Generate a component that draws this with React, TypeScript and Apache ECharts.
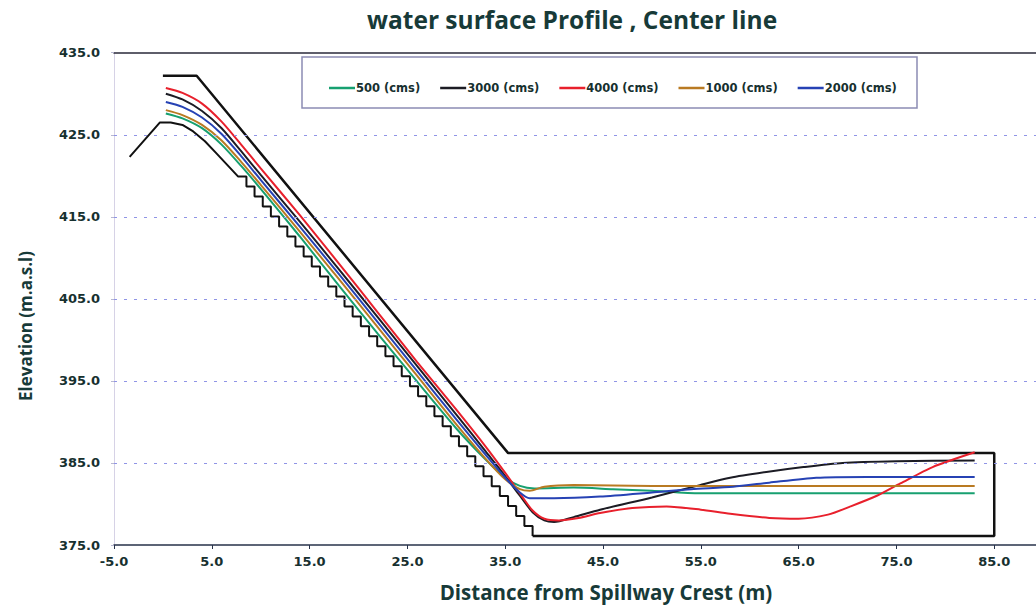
import React, { useEffect, useRef } from "react";
import * as echarts from "echarts";

// Axis ticks
const xTicks = [-5, 5, 15, 25, 35, 45, 55, 65, 75, 85];
const yTicks = [375, 385, 395, 405, 415, 425, 435];
const gridY = [385, 395, 405, 415, 425];
const X_MIN = -5;
const X_MAX = 89.27;

// Spillway geometry: crest (lower profile)
const crestX = [-3.4, -0.3, 0.8, 2.0, 3.1, 4.3, 5.5, 6.6, 7.7];
const crestY = [422.3, 426.5, 426.5, 426.2, 425.4, 424.2, 422.7, 421.3, 419.9];

// Step nosing corners of the stepped chute
const stairX = [7.70, 8.54, 9.37, 10.21, 11.04, 11.88, 12.72, 13.55, 14.39, 15.22, 16.06, 16.90, 17.73, 18.57, 19.40, 20.24, 21.08, 21.91, 22.75, 23.58, 24.42, 25.26, 26.09, 26.93, 27.76, 28.60, 29.44, 30.27, 31.11, 31.94, 32.78, 33.62, 34.45, 35.29, 36.12, 36.96, 37.80];
const stairY = [419.90, 418.68, 417.47, 416.25, 415.03, 413.82, 412.60, 411.38, 410.16, 408.95, 407.73, 406.51, 405.30, 404.08, 402.86, 401.65, 400.43, 399.21, 397.99, 396.78, 395.56, 394.34, 393.13, 391.91, 390.69, 389.48, 388.26, 387.04, 385.82, 384.61, 383.39, 382.17, 380.96, 379.74, 378.52, 377.31, 376.09];

// Upper wall and stilling basin outline
const wallX = [0.0, 3.45, 35.3, 85.0, 85.0, 37.8];
const wallY = [432.2, 432.2, 386.2, 386.2, 376.1, 376.1];

// Water surface profiles
const q500X = [0.3, 2, 4, 6, 8, 10, 14, 18, 22, 26, 30, 33, 35, 36.5, 38, 42, 46, 50, 54.9, 83];
const q500Y = [427.6, 427.0, 425.8, 423.8, 421.2, 418.4, 412.6, 406.6, 400.7, 394.9, 389.2, 385.4, 383.2, 382.2, 381.9, 382.0, 381.8, 381.6, 381.3, 381.3];

const q3000X = [0.3, 2, 4, 6, 8, 10, 14, 18, 22, 26, 30, 33, 35, 36.5, 37.8, 39, 40, 42, 44.7, 50, 54.9, 58, 61.7, 65.5, 69.5, 75, 83];
const q3000Y = [430.0, 429.3, 427.9, 425.8, 423.0, 420.1, 414.4, 408.6, 402.7, 396.8, 390.9, 386.4, 383.4, 381.0, 379.0, 378.0, 377.8, 378.4, 379.3, 380.8, 382.3, 383.2, 383.9, 384.5, 385.0, 385.2, 385.3];

const q4000X = [0.3, 2, 4, 6, 8, 10, 14, 18, 22, 26, 30, 33, 35, 36.5, 37.8, 39, 40.5, 42.5, 44.7, 48, 51.5, 55, 58, 62, 65, 68, 70.3, 73, 75.4, 78.7, 83];
const q4000Y = [430.7, 430.1, 428.8, 426.6, 423.8, 420.9, 415.2, 409.3, 403.3, 397.3, 391.5, 387.0, 383.8, 381.3, 379.2, 378.2, 378.0, 378.3, 378.9, 379.5, 379.7, 379.3, 378.8, 378.3, 378.2, 378.7, 379.7, 381.0, 382.5, 384.5, 386.3];

const q1000X = [0.3, 2, 4, 6, 8, 10, 14, 18, 22, 26, 30, 33, 35, 36.5, 37.5, 39, 42, 50, 83];
const q1000Y = [428.0, 427.4, 426.2, 424.3, 421.7, 418.9, 413.2, 407.4, 401.5, 395.6, 389.7, 385.5, 383.0, 381.8, 381.6, 382.1, 382.3, 382.2, 382.2];

const q2000X = [0.3, 2, 4, 6, 8, 10, 14, 18, 22, 26, 30, 33, 35, 36.5, 37.5, 40, 44.7, 50, 54, 58.3, 62, 66.8, 72, 83];
const q2000Y = [429.0, 428.4, 427.1, 425.1, 422.4, 419.5, 413.8, 408.0, 402.1, 396.2, 390.3, 386.0, 383.2, 381.4, 380.7, 380.7, 380.9, 381.4, 381.8, 382.1, 382.6, 383.2, 383.3, 383.3];

const zip = (xs: number[], ys: number[]) => xs.map((x, i) => [x, ys[i]]);

const lowerProfile = (): number[][] => {
  const pts = zip(crestX, crestY);
  for (let i = 0; i < stairX.length - 1; i++) {
    pts.push([stairX[i + 1], stairY[i]]);
    pts.push([stairX[i + 1], stairY[i + 1]]);
  }
  return pts;
};

const FONT_NUM = "DejaVu Sans";
const FONT_TITLE = "Open Sans";
const TXT = "#17302f";
const TITLE_C = "#173a38";

export default function App() {
  const ref = useRef<HTMLDivElement>(null);
  useEffect(() => {
    if (!ref.current) return;
    const chart = echarts.init(ref.current, null, { renderer: "svg" });
    const water = (name: string, xs: number[], ys: number[], color: string) => ({
      name,
      type: "line",
      data: zip(xs, ys),
      symbol: "none",
      smooth: 0.25,
      lineStyle: { color, width: 2 },
      itemStyle: { color },
      z: 3,
    });
    const option: any = {
      animation: false,
      backgroundColor: "#ffffff",
      title: {
        text: "water surface Profile , Center line",
        left: 362,
        top: 2,
        textStyle: { fontFamily: FONT_TITLE, fontWeight: "bold", fontSize: 24.5, color: TITLE_C },
      },
      grid: { left: 114, right: 0, top: 52.7, bottom: 62, containLabel: false },
      legend: {
        data: ["500 (cms)", "3000 (cms)", "4000 (cms)", "1000 (cms)", "2000 (cms)"],
        left: 324,
        top: 77,
        icon: "rect",
        itemWidth: 26,
        itemHeight: 2.5,
        itemGap: 20,
        textStyle: { fontFamily: FONT_NUM, fontWeight: "bold", fontSize: 11.5, color: TXT, padding: [0, 0, 0, -4] },
      },
      graphic: [
        {
          type: "rect",
          shape: { x: 302, y: 57, width: 615, height: 51 },
          style: { fill: "none", stroke: "#8c8cb4", lineWidth: 1.5 },
          z: 10,
        },
        {
          type: "text",
          x: 25,
          y: 326,
          rotation: Math.PI / 2,
          style: {
            text: "Elevation (m.a.s.l)",
            fontFamily: FONT_TITLE,
            fontWeight: "bold",
            fontSize: 17,
            fill: TITLE_C,
            align: "center",
            verticalAlign: "middle",
          },
        },
        {
          type: "text",
          x: 606,
          y: 592,
          style: {
            text: "Distance from Spillway Crest (m)",
            fontFamily: FONT_TITLE,
            fontWeight: "bold",
            fontSize: 20.5,
            fill: TITLE_C,
            align: "center",
            verticalAlign: "middle",
          },
        },
      ],
      xAxis: [
        {
          type: "value",
          min: X_MIN,
          max: X_MAX,
          position: "bottom",
          axisLine: { show: true, onZero: false, lineStyle: { color: "#27324a", width: 1.5 } },
          axisTick: { show: true, customValues: xTicks, length: 4, lineStyle: { color: "#27324a" } },
          axisLabel: {
            customValues: xTicks,
            formatter: (v: number) => v.toFixed(1),
            fontFamily: FONT_NUM,
            fontWeight: "bold",
            fontSize: 13,
            color: TXT,
            margin: 10,
          },
          splitLine: { show: false },
        },
        {
          type: "value",
          min: X_MIN,
          max: X_MAX,
          position: "top",
          axisLine: { show: true, onZero: false, lineStyle: { color: "#2a2a3a", width: 1.5 } },
          axisTick: { show: false },
          axisLabel: { show: false },
          splitLine: { show: false },
        },
      ],
      yAxis: {
        type: "value",
        min: 375,
        max: 435,
        axisLine: { show: true, onZero: false, lineStyle: { color: "#d6d2e6", width: 1 } },
        axisTick: { show: true, customValues: yTicks, length: 3, lineStyle: { color: "#b8b8d0" } },
        axisLabel: {
          customValues: yTicks,
          formatter: (v: number) => v.toFixed(1),
          fontFamily: FONT_NUM,
          fontWeight: "bold",
          fontSize: 13,
          color: TXT,
          margin: 14,
        },
        splitLine: { show: false },
      },
      series: [
        {
          name: "spillway",
          type: "line",
          data: lowerProfile(),
          symbol: "none",
          lineStyle: { color: "#111111", width: 2 },
          z: 2,
          markLine: {
            silent: true,
            symbol: "none",
            label: { show: false },
            lineStyle: { color: "#8f94e6", width: 1, type: [3, 7] },
            data: gridY.map((v) => ({ yAxis: v })),
          },
        },
        {
          name: "wall",
          type: "line",
          data: zip(wallX, wallY),
          symbol: "none",
          lineStyle: { color: "#111111", width: 2.5 },
          z: 2,
        },
        water("500 (cms)", q500X, q500Y, "#17a070"),
        water("3000 (cms)", q3000X, q3000Y, "#1c1c24"),
        water("4000 (cms)", q4000X, q4000Y, "#e8202c"),
        water("1000 (cms)", q1000X, q1000Y, "#b97a22"),
        water("2000 (cms)", q2000X, q2000Y, "#2642b4"),
      ],
    };
    chart.setOption(option);
    return () => chart.dispose();
  }, []);
  return <div ref={ref} style={{ width: 1036, height: 607, position: "absolute", left: 0, top: 0 }} />;
}
